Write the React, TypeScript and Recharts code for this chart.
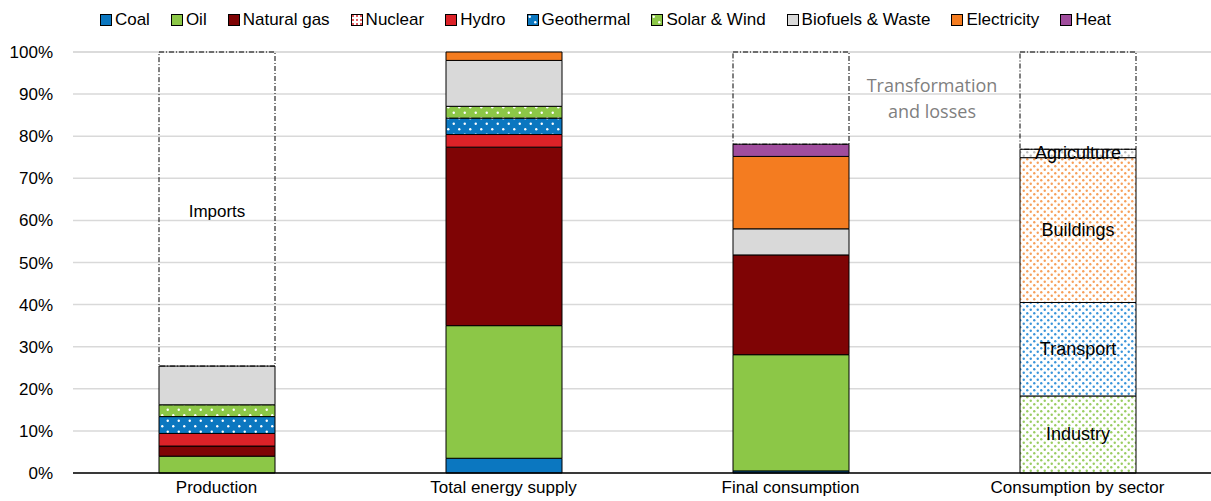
import React from "react";
import { BarChart, Bar, XAxis, YAxis, CartesianGrid, LabelList } from "recharts";

const categories = ["Production", "Total energy supply", "Final consumption", "Consumption by sector"];
const coal = [0, 3.5, 0.5, 0];
const oil = [4.0, 31.5, 27.6, 0];
const gas = [2.4, 42.4, 23.7, 0];
const nuclear = [0, 0, 0, 0];
const hydro = [3.0, 3.0, 0, 0];
const geothermal = [4.0, 3.9, 0, 0];
const solar = [2.8, 2.8, 0, 0];
const biofuels = [9.2, 10.9, 6.2, 0];
const electricity = [0, 2.0, 17.2, 0];
const heat = [0, 0, 2.9, 0];
const industry = [0, 0, 0, 18.3];
const transport = [0, 0, 0, 22.2];
const buildings = [0, 0, 0, 34.4];
const agriculture = [0, 0, 0, 2.0];
const remainder = [74.6, 0, 21.9, 23.1];
const remainderLabels = ["Imports", "", "Transformation and losses", ""];
const yTicks = [0, 10, 20, 30, 40, 50, 60, 70, 80, 90, 100];

const data = categories.map((c, i) => ({
  name: c,
  coal: coal[i],
  oil: oil[i],
  gas: gas[i],
  nuclear: nuclear[i],
  hydro: hydro[i],
  geothermal: geothermal[i],
  solar: solar[i],
  biofuels: biofuels[i],
  electricity: electricity[i],
  heat: heat[i],
  industry: industry[i],
  transport: transport[i],
  buildings: buildings[i],
  agriculture: agriculture[i],
  remainder: remainder[i],
  remLabel: remainderLabels[i],
}));

const FONT = "'Liberation Sans', Arial, sans-serif";

const legendItems = [
  { name: "Coal", fill: "#0B77C0" },
  { name: "Oil", fill: "#8CC747" },
  { name: "Natural gas", fill: "#7F0405" },
  { name: "Nuclear", fill: "url(#pat-nuclear)" },
  { name: "Hydro", fill: "#DC2228" },
  { name: "Geothermal", fill: "url(#pat-geo)" },
  { name: "Solar & Wind", fill: "url(#pat-solar)" },
  { name: "Biofuels & Waste", fill: "#D9D9D9" },
  { name: "Electricity", fill: "#F47C20" },
  { name: "Heat", fill: "#A04D9D" },
];

const dotPattern = (id: string, bg: string, dot: string, size: number, r: number) => (
  <pattern id={id} width={size} height={size} patternUnits="userSpaceOnUse">
    <rect width={size} height={size} fill={bg} />
    <circle cx={size / 4} cy={size / 4} r={r} fill={dot} />
    <circle cx={(3 * size) / 4} cy={(3 * size) / 4} r={r} fill={dot} />
  </pattern>
);

const Patterns = () => (
  <svg width={0} height={0} style={{ position: "absolute" }}>
    <defs>
      {dotPattern("pat-geo", "#0B77C0", "#fff", 11, 1.2)}
      {dotPattern("pat-solar", "#8CC747", "#fff", 11, 1.2)}
      <pattern id="pat-nuclear" width={4} height={4} patternUnits="userSpaceOnUse">
        <rect width={4} height={4} fill="#fff" />
        <circle cx={2} cy={2} r={1} fill="#DC2228" />
      </pattern>
      {dotPattern("pat-industry", "#fff", "#9ACD62", 7, 1.2)}
      {dotPattern("pat-transport", "#fff", "#3A95DA", 7, 1.2)}
      {dotPattern("pat-buildings", "#fff", "#F7A05A", 7, 1.2)}
      {dotPattern("pat-agri", "#fff", "#BFBFBF", 7, 1.2)}
    </defs>
  </svg>
);

const Legend = () => (
  <div
    style={{
      position: "absolute",
      top: 10,
      left: 0,
      width: 1211,
      display: "flex",
      justifyContent: "center",
      gap: 21,
      fontFamily: FONT,
      fontSize: 17,
      color: "#000",
      lineHeight: "20px",
    }}
  >
    {legendItems.map((it) => (
      <div key={it.name} style={{ display: "flex", alignItems: "center" }}>
        <svg width={12} height={12} style={{ marginRight: 3 }}>
          <rect x={0.5} y={0.5} width={11} height={11} fill={it.fill} stroke="#000" strokeWidth={1} />
        </svg>
        <span>{it.name}</span>
      </div>
    ))}
  </div>
);

const RemLabel = (props: any) => {
  const { x, width, value } = props;
  if (!value) return null;
  if (value === "Imports") {
    return (
      <text x={x + width / 2} y={211} textAnchor="middle" dominantBaseline="central" fontFamily={FONT} fontSize={17} fill="#000">
        Imports
      </text>
    );
  }
  if (value === "Transformation and losses") {
    const cx = x + width + 83;
    return (
      <g>
        <text x={cx} y={85} textAnchor="middle" dominantBaseline="central" fontFamily="'Open Sans', sans-serif" fontSize={18} fill="#7F7F7F">
          Transformation
        </text>
        <text x={cx} y={111} textAnchor="middle" dominantBaseline="central" fontFamily="'Open Sans', sans-serif" fontSize={18} fill="#7F7F7F">
          and losses
        </text>
      </g>
    );
  }
  return null;
};

const makeSectorLabel = (label: string) => (props: any) => {
  const { x, y, width, height, value } = props;
  if (!value) return null;
  return (
    <text x={x + width / 2} y={y + height / 2} textAnchor="middle" dominantBaseline="central" fontFamily={FONT} fontSize={18} fill="#000">
      {label}
    </text>
  );
};

const energySeries = [
  { key: "coal", fill: "#0B77C0" },
  { key: "oil", fill: "#8CC747" },
  { key: "gas", fill: "#7F0405" },
  { key: "nuclear", fill: "url(#pat-nuclear)" },
  { key: "hydro", fill: "#DC2228" },
  { key: "geothermal", fill: "url(#pat-geo)" },
  { key: "solar", fill: "url(#pat-solar)" },
  { key: "biofuels", fill: "#D9D9D9" },
  { key: "electricity", fill: "#F47C20" },
  { key: "heat", fill: "#A04D9D" },
];

const sectorSeries = [
  { key: "industry", fill: "url(#pat-industry)", label: "Industry" },
  { key: "transport", fill: "url(#pat-transport)", label: "Transport" },
  { key: "buildings", fill: "url(#pat-buildings)", label: "Buildings" },
  { key: "agriculture", fill: "url(#pat-agri)", label: "Agriculture" },
];

export default function App() {
  return (
    <div style={{ position: "absolute", left: 0, top: 0, width: 1211, height: 501, overflow: "hidden", background: "#fff" }}>
      <Patterns />
      <Legend />
      <BarChart
        width={1221}
        height={501}
        data={data}
        margin={{ top: 52, right: 0, bottom: 0, left: 0 }}
        barSize={116}
      >
        <CartesianGrid vertical={false} stroke="#D9D9D9" strokeWidth={1.5} />
        <XAxis
          dataKey="name"
          height={28}
          axisLine={{ stroke: "#000", strokeWidth: 1.5 }}
          tickLine={false}
          tickSize={0}
          tickMargin={8}
          tick={{ fontFamily: FONT, fontSize: 17, fill: "#000" }}
          interval={0}
        />
        <YAxis
          width={73}
          domain={[0, 100]}
          ticks={yTicks}
          axisLine={false}
          tickLine={false}
          tickSize={0}
          tickMargin={20}
          tickFormatter={(v: number) => `${v}%`}
          tick={{ fontFamily: FONT, fontSize: 17, fill: "#000" }}
        />
        {energySeries.map((s) => (
          <Bar key={s.key} dataKey={s.key} stackId="a" fill={s.fill} stroke="#000" strokeWidth={1} isAnimationActive={false} />
        ))}
        {sectorSeries.map((s) => (
          <Bar key={s.key} dataKey={s.key} stackId="a" fill={s.fill} stroke="#000" strokeWidth={1} isAnimationActive={false}>
            <LabelList dataKey={s.key} content={makeSectorLabel(s.label)} />
          </Bar>
        ))}
        <Bar
          dataKey="remainder"
          stackId="a"
          fill="none"
          stroke="#000"
          strokeWidth={1}
          strokeDasharray="5 2 1 2"
          isAnimationActive={false}
        >
          <LabelList dataKey="remLabel" content={RemLabel} />
        </Bar>
      </BarChart>
    </div>
  );
}
